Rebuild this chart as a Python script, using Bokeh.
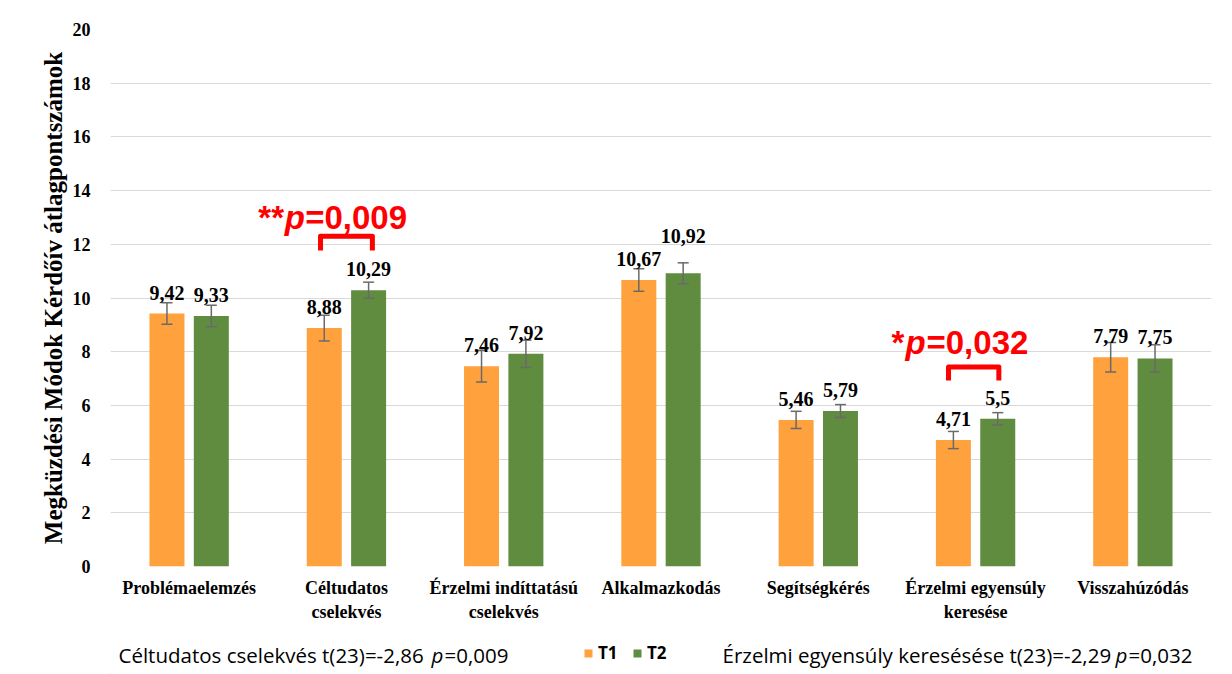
from bokeh.plotting import figure
from bokeh.layouts import column
from bokeh.models import (Range1d, FixedTicker, ColumnDataSource, LabelSet, Whisker,
                          TeeHead, Label, Legend, LegendItem)
from bokeh.core.properties import value
from bokeh.embed import file_html
from bokeh.resources import INLINE

# ---------------- data ----------------
categories = ["Problémaelemzés", "Céltudatos\ncselekvés", "Érzelmi indíttatású\ncselekvés",
              "Alkalmazkodás", "Segítségkérés", "Érzelmi egyensúly\nkeresése", "Visszahúzódás"]
series_names = ["T1", "T2"]
t1_values = [9.42, 8.88, 7.46, 10.67, 5.46, 4.71, 7.79]
t2_values = [9.33, 10.29, 7.92, 10.92, 5.79, 5.5, 7.75]
t1_err = [0.40, 0.48, 0.59, 0.42, 0.32, 0.32, 0.55]
t2_err = [0.40, 0.30, 0.51, 0.39, 0.24, 0.23, 0.51]
y_ticks = [0, 2, 4, 6, 8, 10, 12, 14, 16, 18, 20]
y_title = "Megküzdési Módok Kérdőív átlagpontszámok"
sig_category = [1, 5]
sig_stars = ["**", "*"]
sig_p = ["=0,009", "=0,032"]
note_left = ["Céltudatos cselekvés t(23)=-2,86 ", "p", "=0,009"]
note_right = ["Érzelmi egyensúly keresésése t(23)=-2,29 ", "p", "=0,032"]

ORANGE = "#FFA13D"
GREEN = "#5F8C3F"
RED = "#FF0000"
W, H_MAIN, H_FOOT = 1232, 634, 40
FRAME_L, FRAME_R = 110, 1211

def fmt(v):
    return f"{v:g}".replace(".", ",")

n = len(categories)
centers = [i + 0.5 for i in range(n)]
off = 0.141
bw = 0.2225
t2_label_lift = {3: 16}   # the 10,92 label sits higher in the original
src = ColumnDataSource(dict(
    x1=[c - off for c in centers], x2=[c + off for c in centers],
    t1=t1_values, t2=t2_values,
    u1=[v + e for v, e in zip(t1_values, t1_err)], l1=[v - e for v, e in zip(t1_values, t1_err)],
    u2=[v + e for v, e in zip(t2_values, t2_err)], l2=[v - e for v, e in zip(t2_values, t2_err)],
    lab1=[fmt(v) for v in t1_values], lab2=[fmt(v) for v in t2_values],
    dy1=[14] * n, dy2=[14 + t2_label_lift.get(i, 0) for i in range(n)],
))

p = figure(width=W, height=H_MAIN, x_range=Range1d(0, n), y_range=Range1d(0, 20),
           output_backend="svg", toolbar_location=None,
           min_border_left=FRAME_L, min_border_right=W - FRAME_R, min_border_top=29,
           min_border_bottom=68)
p.outline_line_color = None
p.background_fill_color = "white"
p.border_fill_color = "white"

# grid
p.xgrid.visible = False
p.ygrid.ticker = FixedTicker(ticks=y_ticks)
p.ygrid.grid_line_color = "#d9d9d9"
p.ygrid.grid_line_width = 1

# y axis
p.yaxis.ticker = FixedTicker(ticks=y_ticks)
p.yaxis.axis_line_color = None
p.yaxis.major_tick_line_color = None
p.yaxis.minor_tick_line_color = None
p.yaxis.major_label_text_font = "Liberation Serif"
p.yaxis.major_label_text_font_style = "bold"
p.yaxis.major_label_text_font_size = "18px"
p.yaxis.major_label_text_color = "#000000"
p.yaxis.major_label_standoff = 14
p.yaxis.axis_label = y_title
p.yaxis.axis_label_text_font = "Liberation Serif"
p.yaxis.axis_label_text_font_style = "bold"
p.yaxis.axis_label_text_font_size = "25px"
p.yaxis.axis_label_text_color = "#000000"
p.yaxis.axis_label_standoff = 3

# x axis
p.xaxis.ticker = FixedTicker(ticks=centers)
p.xaxis.major_label_overrides = {c: lab for c, lab in zip(centers, categories)}
p.xaxis.axis_line_color = None
p.xaxis.major_tick_line_color = None
p.xaxis.minor_tick_line_color = None
p.xaxis.major_label_text_font = "Liberation Serif"
p.xaxis.major_label_text_font_style = "bold"
p.xaxis.major_label_text_font_size = "18px"
p.xaxis.major_label_text_color = "#000000"
p.xaxis.major_label_standoff = 5

# bars
r1 = p.vbar(x="x1", top="t1", width=bw, source=src, fill_color=ORANGE, line_color=None)
r2 = p.vbar(x="x2", top="t2", width=bw, source=src, fill_color=GREEN, line_color=None)

# error bars
for b, u, l in (("x1", "u1", "l1"), ("x2", "u2", "l2")):
    w = Whisker(source=src, base=b, upper=u, lower=l, line_color="#6a6a6a", line_width=1.5,
                upper_head=TeeHead(size=11, line_color="#6a6a6a", line_width=1.5),
                lower_head=TeeHead(size=11, line_color="#6a6a6a", line_width=1.5))
    w.level = "annotation"
    p.add_layout(w)

# value labels
for x, y, t, dy in (("x1", "t1", "lab1", "dy1"), ("x2", "t2", "lab2", "dy2")):
    ls = LabelSet(x=x, y=y, text=t, source=src, y_offset=dy, text_align="center",
                  text_baseline="alphabetic", text_font=value("Liberation Serif"),
                  text_font_style="bold", text_font_size="20px", text_color="#000000")
    p.add_layout(ls)

# significance brackets and texts
bracket_geo = [(0.0, 0.165, 12.30, 11.77), (-0.012, 0.160, 7.43, 6.93)]
text_geo = [((-0.560, -0.392, -0.262), 13.0), ((-0.535, -0.446, -0.312), 8.354)]
for ci, stars, ptxt, (dc, hw, ytop, ybot), (xs, yb) in zip(sig_category, sig_stars, sig_p, bracket_geo, text_geo):
    c = centers[ci] + dc
    p.line(x=[c - hw, c - hw, c + hw, c + hw], y=[ybot, ytop, ytop, ybot],
           line_color=RED, line_width=5, line_join="round", line_cap="butt")
    for dx, txt, style in zip(xs, (stars, "p", ptxt), ("bold", "bold italic", "bold")):
        p.add_layout(Label(x=centers[ci] + dx, y=yb, text=txt, text_font="Liberation Sans",
                           text_font_style=style, text_font_size="33px", text_color=RED,
                           text_baseline="alphabetic", text_align="left"))

# ---------------- footer: footnotes + legend ----------------
# the footer frame is aligned with the main frame by the column layout,
# so its x range is expressed in page pixels
f = figure(width=W, height=H_FOOT, x_range=Range1d(FRAME_L, FRAME_R), y_range=Range1d(0, H_FOOT),
           output_backend="svg", toolbar_location=None, x_axis_type=None, y_axis_type=None,
           min_border_left=FRAME_L, min_border_right=W - FRAME_R, min_border_top=0,
           min_border_bottom=0)
f.outline_line_color = None
f.xgrid.visible = False
f.ygrid.visible = False
f.background_fill_color = "white"
f.border_fill_color = "white"

def add_note(parts, xs, ybase):
    for x, txt, style in zip(xs, parts, ("normal", "italic", "normal")):
        f.add_layout(Label(x=x, y=ybase, y_units="screen", text=txt,
                           text_font="Open Sans", text_font_style=style, text_font_size="20.5px",
                           text_color="#000000", text_baseline="alphabetic", text_align="left"))

add_note(note_left, [118, 431, 444], 20)
add_note(note_right, [722, 1115, 1128], 20)

fr1 = f.vbar(x=[-9999], top=[1], width=1, fill_color=ORANGE, line_color=None)
fr2 = f.vbar(x=[-9999], top=[1], width=1, fill_color=GREEN, line_color=None)
legend = Legend(items=[LegendItem(label=series_names[0], renderers=[fr1]),
                       LegendItem(label=series_names[1], renderers=[fr2])],
                orientation="horizontal", location=(583 - FRAME_L, 10),
                glyph_width=10, glyph_height=10, label_standoff=5, spacing=14,
                padding=0, margin=0, border_line_color=None, background_fill_alpha=0,
                label_text_font="Open Sans", label_text_font_style="bold",
                label_text_font_size="17px", label_text_color="#000000")
f.add_layout(legend)

layout = column(p, f, spacing=0)
open("out.html", "w").write(file_html(layout, INLINE))
